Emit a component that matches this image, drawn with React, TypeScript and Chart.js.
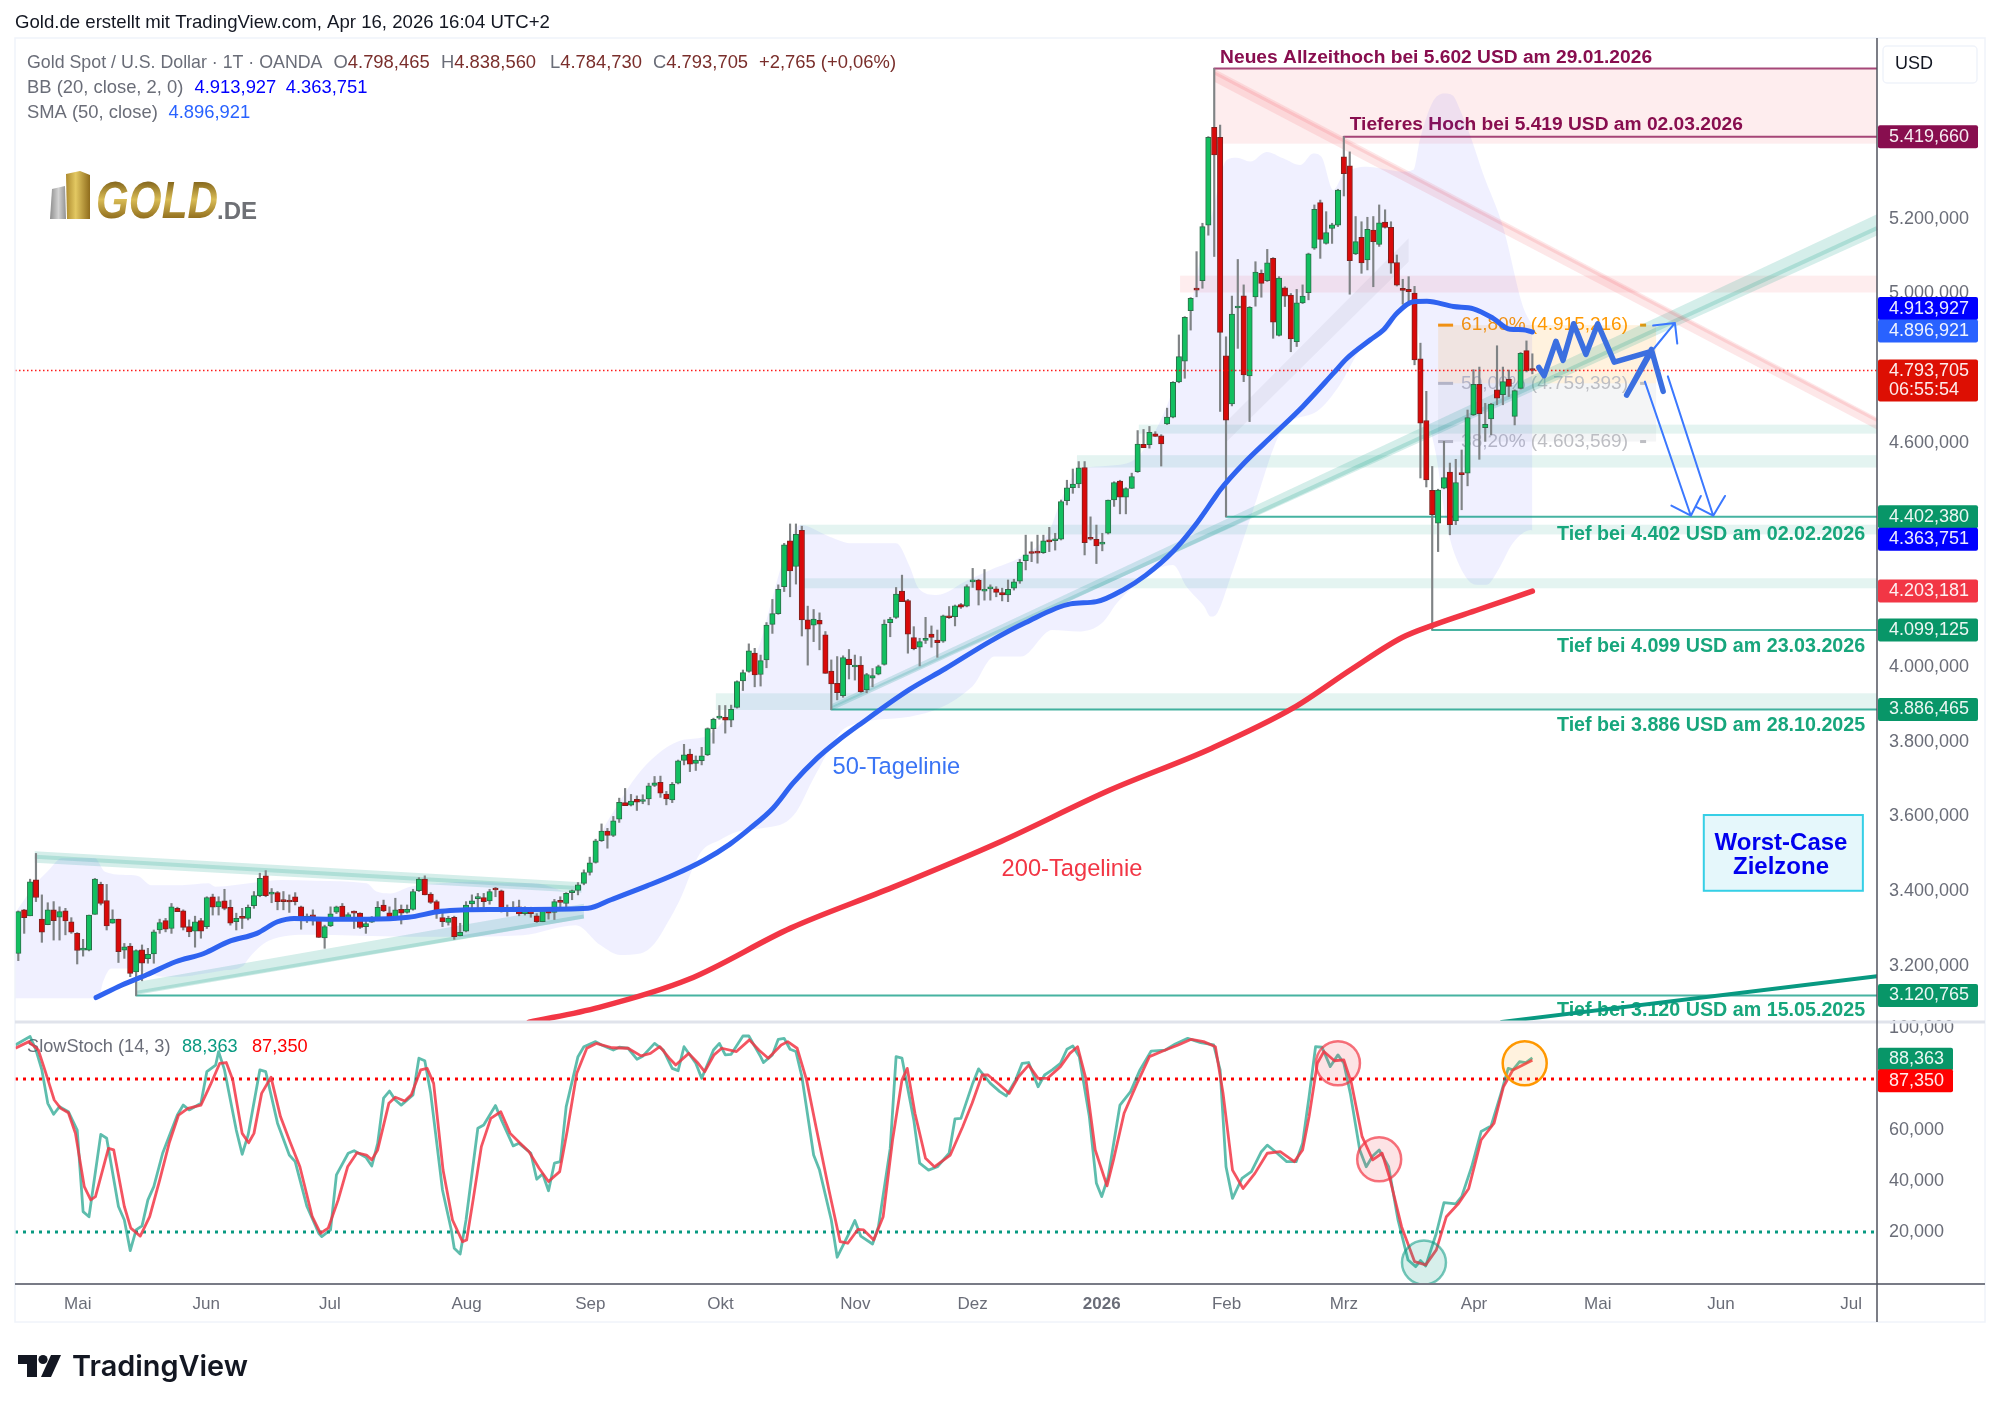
import { useEffect, useRef } from 'react';
import { Chart, registerables } from 'chart.js';

Chart.register(...registerables);

const FONT = '"Liberation Sans", Arial, sans-serif';

// daily candles, bar 0 = mid April 2025, last bar = Apr 16 2026
const opens = [
  3233,3350,3334,3430,3325,3310,3350,3330,3347,3318,
  3287,3242,3242,3338,3418,3375,3314,3325,3242,3253,
  3184,3243,3219,3232,3296,3321,3300,3354,3347,3305,
  3293,3321,3305,3385,3358,3374,3357,3318,3329,3327,
  3361,3388,3441,3392,3396,3374,3373,3385,3358,3326,
  3335,3325,3275,3307,3344,3360,3326,3344,3341,3305,
  3317,3329,3363,3342,3328,3351,3343,3351,3401,3432,
  3392,3372,3329,3316,3330,3281,3293,3366,3380,3383,
  3374,3405,3401,3349,3352,3358,3340,3342,3334,3318,
  3351,3343,3372,3367,3396,3402,3421,3450,3477,3535,
  3561,3549,3593,3637,3630,3646,3640,3647,3683,3691,
  3660,3644,3689,3750,3767,3742,3749,3765,3835,3863,
  3865,3858,3892,3963,3988,4037,3980,4019,4114,4143,
  4215,4338,4269,4366,4126,4112,4125,4086,3989,3956,
  3923,4021,4000,4005,3939,3970,3981,4007,4119,4133,
  4203,4178,4079,4053,4071,4088,4072,4069,4135,4135,
  4167,4163,4228,4233,4203,4209,4209,4199,4193,4211,
  4230,4285,4309,4309,4306,4340,4338,4342,4445,4480,
  4490,4534,4344,4342,4329,4358,4447,4498,4455,4478,
  4523,4596,4595,4624,4619,4651,4669,4763,4819,4954,
  5014,5034,5183,5445,5418,4833,4704,4961,4994,4779,
  4991,5054,5034,5094,4888,5015,4996,4871,4975,5002,
  5121,5243,5134,5174,5183,5366,5342,5106,5150,5090,
  5170,5131,5191,5177,5083,5014,5011,5001,4825,4660,
  4473,4385,4479,4522,4391,4518,4519,4675,4757,4641,
  4664,4742,4729,4770,4671,4746,4847,4798.465,
];
const highs = [
  3347,3351,3432,3501,3390,3369,3372,3358,3354,3329,
  3289,3271,3336,3434,3424,3418,3350,3325,3260,3260,
  3243,3256,3247,3296,3325,3327,3367,3357,3350,3323,
  3333,3327,3385,3392,3385,3405,3376,3341,3354,3363,
  3399,3448,3455,3407,3399,3399,3390,3396,3360,3339,
  3350,3327,3309,3358,3360,3367,3342,3347,3342,3323,
  3332,3372,3376,3358,3381,3363,3363,3405,3436,3441,
  3396,3376,3350,3333,3333,3314,3372,3390,3394,3394,
  3405,3410,3403,3363,3372,3376,3358,3357,3340,3351,
  3354,3378,3385,3396,3403,3423,3457,3491,3539,3580,
  3568,3600,3649,3675,3659,3655,3658,3689,3707,3708,
  3667,3691,3751,3793,3780,3762,3785,3837,3863,3897,
  3897,3898,3963,3992,4062,4050,4032,4119,4181,4220,
  4331,4383,4383,4377,4163,4154,4145,4095,4019,4028,
  4030,4047,4032,4028,3983,3996,4005,4126,4133,4213,
  4246,4181,4108,4077,4133,4110,4099,4139,4162,4166,
  4170,4220,4264,4235,4261,4220,4215,4211,4233,4235,
  4288,4353,4335,4353,4353,4374,4358,4447,4500,4530,
  4550,4550,4402,4380,4358,4447,4496,4500,4480,4519,
  4633,4636,4644,4630,4622,4693,4764,4889,4938,4989,
  5112,5188,5420,5602,5451,4884,4993,5091,5023,4965,
  5085,5063,5118,5096,5045,5018,5000,5011,5023,5108,
  5237,5250,5219,5188,5279,5419.66,5379,5206,5192,5204,
  5206,5237,5224,5192,5103,5038,5045,5019,4867,4738,
  4537,4476,4604,4546,4556,4581,4688,4796,4803,4706,
  4706,4860,4803,4795,4742,4842,4873,4838.56,
];
const lows = [
  3214,3287,3334,3372,3263,3310,3269,3269,3283,3287,
  3205,3226,3240,3338,3363,3296,3314,3209,3220,3171,
  3120.765,3160,3207,3207,3287,3291,3287,3345,3296,3278,
  3250,3274,3300,3336,3336,3350,3309,3296,3300,3323,
  3354,3385,3385,3369,3350,3350,3343,3363,3298,3316,
  3309,3276,3247,3305,3340,3327,3323,3300,3300,3287,
  3316,3327,3345,3327,3323,3312,3341,3349,3399,3390,
  3367,3327,3305,3309,3271,3280,3291,3350,3354,3357,
  3365,3385,3344,3333,3345,3334,3336,3330,3316,3318,
  3325,3324,3354,3356,3377,3390,3417,3443,3475,3533,
  3515,3546,3584,3629,3628,3616,3634,3631,3680,3651,
  3631,3637,3687,3738,3720,3723,3738,3763,3796,3860,
  3823,3840,3890,3937,3986,3947,3949,3998,4090,4141,
  4202,4188,4222,4083,4005,4068,4046,3983,3886.465,3912,
  3919,3968,3965,3932,3931,3947,3979,4005,4081,4130,
  4175,4037,4046,4003,4063,4053,4026,4066,4130,4110,
  4157,4161,4213,4166,4179,4179,4188,4177,4175,4206,
  4224,4260,4282,4278,4304,4309,4313,4340,4434,4465,
  4480,4300,4340,4277,4311,4356,4430,4410,4410,4478,
  4521,4587,4586,4617,4538,4649,4667,4761,4773,4902,
  4991,5014,5156,5099,4684,4402.38,4699,4853,4764,4657,
  4966,4990,5032,4880,4886,4965,4844,4858,4973,4983,
  5118,5094,5132,5134,5179,5261,4998,5104,5054,5063,
  5018,5126,5175,5054,5020,4971,4974,4809,4506,4482,
  4099.125,4309,4477,4354,4381,4421,4485,4673,4556,4604,
  4622,4702,4702,4724,4648,4744,4790,4784.73,
];
const closes = [
  3345,3329,3425,3383,3290,3350,3321,3345,3320,3290,
  3241,3244,3336,3432,3367,3307,3325,3238,3251,3180,
  3241,3207,3231,3291,3316,3298,3358,3345,3303,3291,
  3318,3293,3383,3357,3372,3354,3314,3327,3327,3357,
  3388,3434,3388,3394,3372,3372,3371,3372,3325,3333,
  3331,3276,3305,3339,3358,3330,3337,3341,3303,3313,
  3325,3357,3347,3327,3350,3341,3351,3399,3432,3390,
  3370,3339,3318,3327,3278,3290,3363,3374,3383,3372,
  3399,3403,3345,3351,3355,3339,3342,3340,3318,3350,
  3341,3372,3370,3394,3400,3417,3450,3476,3535,3561,
  3549,3588,3638,3629,3641,3638,3642,3682,3690,3662,
  3647,3686,3749,3765,3740,3751,3762,3835,3860,3866,
  3858,3887,3961,3985,4043,3979,4017,4112,4143,4208,
  4327,4257,4355,4126,4101,4128,4115,3983,3955,3931,
  4025,4006,4003,3934,3980,3977,4001,4115,4128,4195,
  4175,4088,4049,4068,4077,4079,4065,4137,4132,4164,
  4160,4215,4233,4206,4206,4212,4200,4193,4208,4228,
  4280,4300,4304,4305,4338,4335,4341,4443,4480,4490,
  4533,4333,4342,4324,4333,4447,4494,4455,4478,4510,
  4597,4587,4628,4617,4597,4669,4762,4831,4936,4987,
  5009,5179,5418,5371,4896,4661,4945,4965,4782,4963,
  5057,5027,5082,4923,5041,4993,4878,4975,4993,5106,
  5225,5145,5163,5184,5277,5321,5088,5139,5082,5172,
  5139,5189,5177,5081,5022,5008,5005,4822,4653,4501,
  4408,4474,4507,4381,4494,4515,4668,4757,4678,4650,
  4704,4720,4764,4751,4740,4840,4793,4793.705,
];

const sma50Bars = [13.2,17.6,21.8,26.7,31.5,35.7,40.5,44,46.8,52.3,59.2,66.2,71.7,80,87,96.7,100.6,106.7,111.2,116.3,120.8,124.2,128.1,131.5,135.6,138.9,142.9,151.3,157.4,164.9,171,178.6,183,187.7,191.4,196,199.8,202.8,204,208,213,218,223.2,225.5,229.5,231.7,234,236.8,239.1,243.6,247,250.3,253.2,255.4,257];
const sma50Values = [3115,3149,3176,3211,3233,3265,3287,3318,3327,3325,3325,3330,3346,3351,3351,3354,3377,3414,3443,3482,3526,3568,3622,3689,3756,3800,3847,3940,3996,4068,4119,4169,4175,4208,4246,4309,4380,4447,4474,4545,4621,4697,4786,4826,4876,4902,4947,4978,4979,4965,4959,4934,4904,4903,4896.921];

const sma200Bars = [86.7,98.6,113.8,131.1,148.4,166.8,185.2,202.5,216.5,226.3,234.9,240.3,247.9,257];
const sma200Values = [3049,3089,3164,3301,3410,3533,3670,3782,3891,3994,4079,4113,4154,4203.181];

const bbUpperBars = [-0.6,2.8,5.1,7.4,13,14.7,18.7,20.4,22.6,27.7,32.3,33.4,40.2,44.7,50.4,59.1,60.8,63.1,66.5,71.6,78.4,82.9,87.4,94.8,96,98.7,102.1,104.9,108.4,112.9,116.3,120.2,122.5,125.9,128.2,130.4,132.7,137.7,141.5,149,151.3,152.8,155.9,161.2,165,170.2,174.8,177,178,180,188.1,194.9,197.7,200.6,202.8,205.1,206.8,209.1,211.9,214.7,217.6,219.8,221.2,223.2,224.9,228.9,231.1,235,236.8,237.9,240,242,243.5,244.5,246.4,248.6,252,255.4,257];
const bbUpperValues = [3340,3416,3455,3488,3488,3452,3443,3440,3416,3416,3421,3412,3423,3430,3428,3421,3399,3394,3412,3421,3425,3421,3421,3394,3430,3546,3640,3707,3765,3805,3812,3867,3934,4063,4197,4313,4380,4349,4331,4331,4269,4211,4193,4233,4260,4295,4358,4447,4480,4530,4545,4697,4849,5090,5223,5357,5363,5353,5379,5362,5344,5375,5366,5277,5317,5339,5335,5326,5331,5411,5510,5535,5530,5500,5425,5322,5179,4965,4913.927];
const bbLowerBars = [-0.6,13.6,14.4,15.8,18.7,22.1,24.3,27.7,31.1,34.5,38,39.3,42.5,49.6,66.2,74.5,85.6,94.6,98.8,102.2,105.6,108,110,112.3,115.7,119.1,122,125.9,130.4,132.1,135,140.7,151.3,161.9,165.7,170.2,175.5,180,183.9,186.9,196,198.3,201.3,202.4,203.5,205.8,209.6,214.7,220.4,224.3,227.5,229.4,232.8,235,236.8,237.9,239,240.7,242.4,244.7,247.5,249.2,251.2,253.7,256.8,257];
const bbLowerValues = [3113,3113,3158,3193,3193,3180,3171,3171,3178,3187,3198,3224,3267,3283,3278,3278,3282,3309,3256,3229,3233,3260,3310,3377,3501,3537,3559,3568,3586,3613,3702,3840,3867,3947,4028,4028,4099,4095,4117,4179,4273,4215,4162,4135,4144,4242,4420,4639,4684,4755,4844,4876,4907,4974,4978,4867,4697,4564,4385,4269,4220,4220,4260,4332,4367,4363.751];

const stochKBars = [-0.5,2,3,4,5,6,7,8.5,10,11,12,14,15,17,18,19,20,21,22,23,24.5,27,28,29,31,32,33.5,34,35,37,38,39,41,42,44,46,47,49,51,51.5,53,54,56,57,59,60,61,62,63,64,65,67,68,69,70,72,73.5,74,75,76,78,79,81,82,84,85,87,88,89,90,91,92,93,95,96,98,99,101,102,103.5,105,106,108,109.5,111,112,113,115,116,118,119,120,121,123,124,126,126.5,128,129,130,131,132,133,135,136,138,139,141,142,143,145,146,148,149,150,152,153,154.5,156,158,159,160,162,163,165,166.6,167.7,169.3,170.4,171.5,173.1,174.2,175.5,176.9,178,179,180.1,181.8,183,183.9,185,187,188.8,190.4,192.3,194.7,196.4,198.5,200.7,202.9,204,205,206.1,207.7,209.3,211,212,213.4,215.3,216.9,218,219.1,220.2,221.3,222.7,224,225,226.1,227.7,228.8,229.9,231,232.6,234.2,235.9,237.2,238,238.9,240.7,242,244,245,246.7,248.3,250,251.6,252.9,253.7,254.8,255.9,257];
const stochKValues = [93.4,96.7,91.4,83.6,70.5,66.2,69.2,67.2,60,28,26,58.3,56.8,30,24.7,12.7,20.8,22.4,32.6,37.8,50.9,65.9,69.8,67.9,70.5,82.9,85.5,90.8,83.6,60,50.5,58,83.6,82.9,62.7,50.2,47.6,30,19.5,18.2,20.8,42.4,50.9,51.9,49.3,45.9,54.8,72.5,75.3,71.8,69.8,73.8,88.2,87.2,74.4,36.5,20.8,13.6,11.4,24.7,60.7,62,69.6,64,53.8,54.8,50.9,40.7,42.8,36.2,47,47.6,69.2,88.8,92.7,94.7,93.4,91.4,92.5,92.1,87.8,89,94,91.4,84.2,83.3,92.7,86.2,80.3,91.4,94,89.5,89.7,96.9,96.9,88.8,86.5,89.5,95.6,96,91.7,90.8,81,50.2,44.3,24.7,10.1,19.5,24.5,18.4,15.3,22.1,52.8,88.8,88.2,64,47,44.3,45.6,50.9,64.4,64.6,78.3,84,78.3,75.1,73.4,79.7,86.2,86.5,77,81.6,83.6,86.2,91.7,93,88.8,65.3,39.1,33.9,41.7,69.8,75.1,83.6,91,91.4,93.8,96,94.3,93.4,83.6,45.6,33.2,41,43.7,51.5,54.1,51.5,47.6,47.6,54.8,73.1,92.7,92.5,84.9,89.5,86.2,74.4,52.2,45.6,49.8,52.2,45.6,24.7,9,6.4,8.8,6.7,19.5,31.5,31,33.9,45.6,59.4,61.6,73.8,84.2,83.6,86.8,86.5,88.363];
const stochDBars = [-0.5,1.8,3.4,4.5,6.1,7.2,8.5,9.7,11.2,12.3,13.1,15.3,16.2,18,19.1,20.7,22.3,24,25.6,27.2,28.8,31,32.6,34.2,35.3,36.4,38,39.1,40,41.3,42.9,44.5,46.1,47.8,49.9,51.3,52.6,54.3,55.9,57.5,59.1,60,61,62.9,64,65.6,66.7,68.3,69.4,70.5,72.1,73.7,75.4,76.1,77.2,78.6,80.2,81.9,83.5,85.1,86.7,88.4,90,91.9,93.2,94.8,96.5,98.1,100.8,103.5,105.7,107.3,108.9,110.5,111.6,113.8,115.4,116.5,118.1,119.4,121.9,124.1,125.7,127.3,129.5,130.6,132.2,133.8,135.4,137.6,139.5,140.8,142.5,143.5,145.2,146.8,148.4,150,150.9,152.2,154,155.5,158.2,160.3,161.9,163.6,164.6,166.6,168.2,169.8,171.5,173.1,174.7,176.9,178.5,179.8,181.2,182.8,184.8,185.9,187.7,189.9,192,194.7,196.9,199.1,201.2,203.2,204.5,206.1,207.9,209.9,212,214.2,216.6,218,219.1,220.5,221.6,223.4,225,226.3,228.1,229.9,231.5,232.8,234.8,237,238.9,240.7,242.4,244.5,246.2,248.3,250.5,252.1,253.7,255.4,257];
const stochDValues = [92.1,94.7,91.4,83.6,71.8,68.5,66.8,58.7,37.8,32.6,33.9,52.8,52.2,30,21.5,18.4,26,40.4,54.8,65.9,68.5,69.8,77.7,86.2,86.5,79.7,58.7,55,58.7,74.4,80.7,65.3,55.5,45.6,26,19.5,21.5,32.6,45.6,51.1,50.2,48.3,52.2,70.5,72.9,71.4,73.8,83.6,84.2,78.3,44.3,24.7,16.2,16.9,32.6,53.5,64.6,67.2,58.7,55,51.5,45,39.8,43.7,60,82.3,92.1,94,92.3,92.1,89.1,90.1,92.7,88.2,85.5,90.1,86.2,82.9,89.5,92.1,90.8,95.4,91.4,88.2,93.4,94.7,92.1,79.7,61.3,36.5,16.2,15.6,21,20.8,16.9,26,56.1,79.7,84.2,66.6,48.9,45.6,50.2,61.3,70.5,81.6,81.6,77.7,74.4,81,85.5,80.3,80.3,84.9,90.1,92.7,80.3,52.2,38.1,48.3,66.6,78.3,88.8,91.4,93.4,95.6,94.7,92.7,74.4,44.3,37.1,43,50.9,51.5,47.6,52.2,65.3,86.2,90.8,87.2,87.5,78.3,57.4,48.3,50.9,41.1,22.1,8.4,7.1,13,26,31.3,37.1,56.1,62.7,77,83.6,85.5,87.35];
const stochBandLevels = [80, 20];
const circleBars = [224, 231, 238.6, 255.7];
const circleValues = [86.2, 48.5, 8, 86.2];

const monthTickBars = [10.1,31.9,52.9,76.1,97.1,119.2,142.1,162,183.9,205.1,225,247.1,268.1,289,311.1];
const monthLabels = ['Mai','Jun','Jul','Aug','Sep','Okt','Nov','Dez','2026','Feb','Mrz','Apr','Mai','Jun','Jul'];
const priceTicks = [5200,5000,4600,4000,3800,3600,3400,3200];
const stochTicks = [100,60,40,20];

const lastPrice = 4793.705;
const athLevel = 5602;
const lowerHighLevel = 5419.66;
const maroonStartBars = [203, 225];
const maroonLevels = [athLevel, lowerHighLevel];
const lowStartBars = [205, 240, 138, 20];
const lowLevels = [4402.38, 4099.125, 3886.465, 3120.765];

// horizontal zones, from a start bar to the price axis
const zoneStartBars = [203.1, 197.2, 190.2, 179.7, 132.7, 133.2, 118.4];
const zoneTops = [5602, 5047.6, 4648.9, 4567, 4381, 4237.6, 3929.6];
const zoneBottoms = [5401, 5002.6, 4624.8, 4534, 4355, 4210.7, 3885];

// trend channels as four corners (bar, price)
const upperWedgeBars = [2.8, 95.6, 95.6, 2.8];
const upperWedgeValues = [3507, 3424, 3396, 3476];
const upperWedgeCore = [3492, 3408];
const lowerWedgeBars = [20.1, 96, 96, 20.1];
const lowerWedgeValues = [3157, 3366, 3327, 3125];
const lowerWedgeCore = [3128, 3332];
const riseBars = [138, 315.5, 315.5, 138];
const riseValues = [3900, 5212, 5155, 3889];
const riseCore = [3889, 5175];
const fallBars = [203.1, 315.5, 315.5, 203.1];
const fallValues = [5600, 4668, 4636, 5566];
const fallCore = [5590, 4660];
const greyBars = [205.1, 236, 236, 205.1];
const greyValues = [4657, 5148, 5085, 4603];

const longTrendBars = [251.8, 315.5];
const longTrendValues = [3050, 3172];

const fibBars = [241, 278];
const fibLevels = [4915.216, 4759.393, 4603.569];
const fibLabels = ['61,80% (4.915,216)', '50,00% (4.759,393)', '38,20% (4.603,569)'];

// hand drawn scenario
const zigzagBars = [258.1,259,261,262.2,264,266.1,268.1,270.9,277.2,273,277.2,279.2];
const zigzagValues = [4802,4780,4872,4821,4919,4837,4919,4816,4845,4728,4850,4738];
const arrowUpBars = [277.5,281.2,277.5,281.2,281.6];
const arrowUpValues = [4850,4921,4914,4921,4866];
const arrowDownABars = [276.1,283.9,280.6,283.9,285.6];
const arrowDownAValues = [4764,4405,4432,4405,4458];
const arrowDownBBars = [280,287.7,284.8,287.7,289.7];
const arrowDownBValues = [4778,4405,4429,4405,4458];

const priceMin = 3049.7;
const priceMax = 5683.9;

const deNum = (v: number) =>
  v.toLocaleString('de-DE', { minimumFractionDigits: 3, maximumFractionDigits: 3 });

const path = (xs: number[], ys: number[], color: string, width: number, order: number, extra: any = {}) => ({
  type: 'line',
  data: xs.map((x, k) => ({ x, y: ys[k] })),
  yAxisID: 'price',
  borderColor: color,
  borderWidth: width,
  pointRadius: 0,
  tension: 0,
  fill: false,
  order,
  borderCapStyle: 'round',
  borderJoinStyle: 'round',
  ...extra,
});

function label(ctx: CanvasRenderingContext2D, text: string, x: number, y: number, color: string, font: string, align: CanvasTextAlign = 'left') {
  ctx.fillStyle = color;
  ctx.font = font;
  ctx.textAlign = align;
  ctx.textBaseline = 'middle';
  ctx.fillText(text, x, y);
}

function polygon(ctx: CanvasRenderingContext2D, chart: any, bars: number[], values: number[], color: string) {
  const { x, price } = chart.scales;
  ctx.fillStyle = color;
  ctx.beginPath();
  bars.forEach((b, k) => {
    const px = x.getPixelForValue(b);
    const py = price.getPixelForValue(values[k]);
    if (k === 0) ctx.moveTo(px, py);
    else ctx.lineTo(px, py);
  });
  ctx.closePath();
  ctx.fill();
}

function coreLine(ctx: CanvasRenderingContext2D, chart: any, bars: number[], values: number[], color: string, width: number) {
  const { x, price } = chart.scales;
  ctx.strokeStyle = color;
  ctx.lineWidth = width;
  ctx.beginPath();
  ctx.moveTo(x.getPixelForValue(bars[0]), price.getPixelForValue(values[0]));
  ctx.lineTo(x.getPixelForValue(bars[1]), price.getPixelForValue(values[1]));
  ctx.stroke();
}

function priceTag(ctx: CanvasRenderingContext2D, y: number, width: number, bg: string, lines: string[]) {
  const h = lines.length > 1 ? 42 : 23;
  const top = lines.length > 1 ? y - 11 : y - h / 2;
  ctx.fillStyle = bg;
  ctx.beginPath();
  ctx.roundRect(1878, top, width, h, 2);
  ctx.fill();
  lines.forEach((t, k) => label(ctx, t, 1889, top + 11.5 + k * 19, 'rgba(255,255,255,0.92)', `18px ${FONT}`));
}

function goldLogo(ctx: CanvasRenderingContext2D) {
  const grey = ctx.createLinearGradient(50, 0, 67, 0);
  grey.addColorStop(0, '#8e8e8e');
  grey.addColorStop(0.5, '#d2d2d2');
  grey.addColorStop(1, '#8a8a8a');
  ctx.fillStyle = grey;
  ctx.beginPath();
  ctx.moveTo(52, 189); ctx.lineTo(65, 186); ctx.lineTo(66, 219); ctx.lineTo(50, 219);
  ctx.closePath(); ctx.fill();
  const gold = ctx.createLinearGradient(64, 0, 90, 0);
  gold.addColorStop(0, '#a37f25');
  gold.addColorStop(0.45, '#e3c862');
  gold.addColorStop(1, '#8f6c1c');
  ctx.fillStyle = gold;
  ctx.beginPath();
  ctx.moveTo(66, 174); ctx.lineTo(80, 171); ctx.lineTo(90, 175); ctx.lineTo(90, 219); ctx.lineTo(67, 219);
  ctx.closePath(); ctx.fill();
  const text = ctx.createLinearGradient(0, 180, 0, 219);
  text.addColorStop(0, '#7d5f18');
  text.addColorStop(0.5, '#d9bc55');
  text.addColorStop(1, '#8f6c1c');
  ctx.fillStyle = text;
  ctx.font = `italic bold 52px ${FONT}`;
  ctx.textAlign = 'left';
  ctx.textBaseline = 'alphabetic';
  ctx.fillText('GOLD', 96, 218, 122);
  ctx.fillStyle = '#6e7075';
  ctx.font = `bold 24px ${FONT}`;
  ctx.fillText('.DE', 217, 219, 45);
}

function tradingViewLogo(ctx: CanvasRenderingContext2D) {
  ctx.fillStyle = '#131722';
  ctx.fillRect(18, 1355, 19, 9);
  ctx.fillRect(27, 1355, 10, 22);
  ctx.beginPath();
  ctx.arc(43, 1359.5, 4.6, 0, Math.PI * 2);
  ctx.fill();
  ctx.beginPath();
  ctx.moveTo(51, 1355); ctx.lineTo(61, 1355); ctx.lineTo(51, 1377); ctx.lineTo(41, 1377);
  ctx.closePath(); ctx.fill();
  ctx.font = `600 29px Inter, ${FONT}`;
  ctx.textAlign = 'left';
  ctx.textBaseline = 'middle';
  ctx.fillText('TradingView', 72, 1367, 176);
}

const overlay = {
  id: 'overlay',
  beforeDatasetsDraw(chart: any) {
    const ctx: CanvasRenderingContext2D = chart.ctx;
    const { x, price, stoch } = chart.scales;
    const right = chart.chartArea.right;
    const px = (b: number) => x.getPixelForValue(b);
    const py = (v: number) => price.getPixelForValue(v);
    ctx.save();

    // zones
    zoneStartBars.forEach((b, k) => {
      ctx.fillStyle = k < 2 ? 'rgba(242,54,69,0.09)' : 'rgba(8,153,129,0.11)';
      ctx.fillRect(px(b), py(zoneTops[k]), right - px(b), py(zoneBottoms[k]) - py(zoneTops[k]));
    });

    // fibonacci box
    const fibL = px(fibBars[0]);
    const fibR = px(fibBars[1]);
    ctx.fillStyle = 'rgba(255,152,0,0.13)';
    ctx.fillRect(fibL, py(fibLevels[0]), fibR - fibL, py(fibLevels[1]) - py(fibLevels[0]));
    ctx.fillStyle = 'rgba(120,123,134,0.08)';
    ctx.fillRect(fibL, py(fibLevels[1]), fibR - fibL, py(fibLevels[2]) - py(fibLevels[1]));
    const fibColors = ['#ff9800', '#bdbec3', '#bdbec3'];
    fibLevels.forEach((lvl, k) => {
      const y = py(lvl);
      ctx.fillStyle = fibColors[k];
      ctx.fillRect(fibL, y - 1.5, 15, 3);
      ctx.fillRect(fibL + 202, y - 1.5, 6, 3);
      label(ctx, fibLabels[k], fibL + 23, y, fibColors[k], `19px ${FONT}`);
    });

    // channels
    polygon(ctx, chart, upperWedgeBars, upperWedgeValues, 'rgba(8,153,129,0.17)');
    coreLine(ctx, chart, upperWedgeBars, upperWedgeCore, 'rgba(8,153,129,0.18)', 4);
    polygon(ctx, chart, lowerWedgeBars, lowerWedgeValues, 'rgba(8,153,129,0.17)');
    coreLine(ctx, chart, lowerWedgeBars, lowerWedgeCore, 'rgba(8,153,129,0.2)', 4);
    polygon(ctx, chart, riseBars, riseValues, 'rgba(8,153,129,0.17)');
    coreLine(ctx, chart, riseBars, riseCore, 'rgba(8,153,129,0.2)', 4);
    polygon(ctx, chart, fallBars, fallValues, 'rgba(242,54,69,0.12)');
    coreLine(ctx, chart, fallBars, fallCore, 'rgba(242,54,69,0.14)', 3);
    polygon(ctx, chart, greyBars, greyValues, 'rgba(120,123,134,0.09)');

    // worst case box
    const boxL = px(286.1);
    const boxR = px(313.1);
    const boxT = py(3603.8);
    const boxB = py(3401);
    ctx.fillStyle = '#e5f7fb';
    ctx.strokeStyle = '#35cfe6';
    ctx.lineWidth = 2;
    ctx.fillRect(boxL, boxT, boxR - boxL, boxB - boxT);
    ctx.strokeRect(boxL, boxT, boxR - boxL, boxB - boxT);
    label(ctx, 'Worst-Case', px(299.2), py(3532) + 2, '#0000ee', `bold 24px ${FONT}`, 'center');
    label(ctx, 'Zielzone', px(299.2), py(3470) + 2, '#0000ee', `bold 24px ${FONT}`, 'center');

    // notes
    const maroon = '#880e4f';
    const green = '#17a67c';
    const bold = `bold 19.2px ${FONT}`;
    const lowFont = `bold 19.7px ${FONT}`;
    const drop = 2.5;
    label(ctx, 'Neues Allzeithoch bei 5.602 USD am 29.01.2026', px(204), py(5638) + drop, maroon, bold);
    label(ctx, 'Tieferes Hoch bei 5.419 USD am 02.03.2026', px(226), py(5458) + drop, maroon, bold);
    label(ctx, 'Tief bei 4.402 USD am 02.02.2026', px(313.5), py(4362.5) + drop, green, lowFont, 'right');
    label(ctx, 'Tief bei 4.099 USD am 23.03.2026', px(313.5), py(4061.6) + drop, green, lowFont, 'right');
    label(ctx, 'Tief bei 3.886 USD am 28.10.2025', px(313.5), py(3850) + drop, green, lowFont, 'right');
    label(ctx, 'Tief bei 3.120 USD am 15.05.2025', px(313.5), py(3086) + drop, green, lowFont, 'right');
    label(ctx, '50-Tagelinie', px(138.2), py(3737.7) + drop, '#3a74f5', `23.7px ${FONT}`);
    label(ctx, '200-Tagelinie', px(166.9), py(3464.6) + drop, '#f23645', `23.7px ${FONT}`);

    // stochastic legend
    const stochY = stoch.top + 25;
    label(ctx, 'SlowStoch (14, 3)', 27, stochY, '#6a6d78', `18.2px ${FONT}`);
    label(ctx, '88,363', 182, stochY, '#089981', `18.2px ${FONT}`);
    label(ctx, '87,350', 252, stochY, '#ff0000', `18.2px ${FONT}`);
    ctx.restore();
  },
  afterDatasetsDraw(chart: any) {
    const ctx: CanvasRenderingContext2D = chart.ctx;
    const { x, price, stoch } = chart.scales;
    const { left, right, top, bottom } = chart.chartArea;
    const frameR = chart.width - 14;
    ctx.save();

    // frame and separators
    ctx.strokeStyle = '#f0f3fa';
    ctx.lineWidth = 1.5;
    ctx.strokeRect(left, top, frameR - left, x.bottom - top);
    ctx.strokeStyle = '#e0e3eb';
    ctx.lineWidth = 3;
    ctx.beginPath();
    ctx.moveTo(left, price.bottom);
    ctx.lineTo(frameR, price.bottom);
    ctx.stroke();
    ctx.strokeStyle = '#787b86';
    ctx.lineWidth = 2;
    ctx.beginPath();
    ctx.moveTo(left, bottom);
    ctx.lineTo(frameR, bottom);
    ctx.stroke();
    ctx.strokeStyle = '#50535e';
    ctx.lineWidth = 1.5;
    ctx.beginPath();
    ctx.moveTo(right, top);
    ctx.lineTo(right, x.bottom);
    ctx.stroke();

    // currency box
    ctx.strokeStyle = '#f0f3fa';
    ctx.lineWidth = 1.5;
    ctx.beginPath();
    ctx.roundRect(1883, 46, 94, 37, 4);
    ctx.stroke();
    label(ctx, 'USD', 1895, 64, '#131722', `18px ${FONT}`);

    // price tags
    const py = (v: number) => price.getPixelForValue(v);
    const sy = (v: number) => stoch.getPixelForValue(v);
    priceTag(ctx, py(5419.66), 100, '#880e4f', ['5.419,660']);
    priceTag(ctx, py(4913.927) - 17, 100, '#0000ff', ['4.913,927']);
    priceTag(ctx, py(4896.921) - 1, 100, '#2962ff', ['4.896,921']);
    priceTag(ctx, py(lastPrice), 100, '#dd0f03', ['4.793,705', '06:55:54']);
    priceTag(ctx, py(4402.38), 100, '#089668', ['4.402,380']);
    priceTag(ctx, py(4363.751) + 8, 100, '#0000ff', ['4.363,751']);
    priceTag(ctx, py(4203.181), 100, '#f23645', ['4.203,181']);
    priceTag(ctx, py(4099.125), 100, '#089668', ['4.099,125']);
    priceTag(ctx, py(3886.465), 100, '#089668', ['3.886,465']);
    priceTag(ctx, py(3120.765), 100, '#089668', ['3.120,765']);
    priceTag(ctx, sy(88.363) + 1.5, 75, '#089668', ['88,363']);
    priceTag(ctx, sy(87.35) + 20.5, 75, '#ff0000', ['87,350']);

    // header and legends
    label(ctx, 'Gold.de erstellt mit TradingView.com, Apr 16, 2026 16:04 UTC+2', 15, 23, '#131722', `18.6px ${FONT}`);
    const grey = '#6a6d78';
    const wine = '#7a2e2b';
    const f = `18.4px ${FONT}`;
    label(ctx, 'Gold Spot / U.S. Dollar · 1T · OANDA', 27, 63, grey, `17.8px ${FONT}`);
    [['O', '4.798,465', 333.5], ['H', '4.838,560', 441], ['L', '4.784,730', 550], ['C', '4.793,705', 653]].forEach(([a, b, at]: any) => {
      label(ctx, a, at, 63, grey, f);
      label(ctx, b, at + ctx.measureText(a).width, 63, wine, f);
    });
    label(ctx, '+2,765 (+0,06%)', 759, 63, wine, f);
    label(ctx, 'BB (20, close, 2, 0)', 27, 88, grey, f);
    label(ctx, '4.913,927', 194.5, 88, '#0000ff', f);
    label(ctx, '4.363,751', 285.7, 88, '#0000ff', f);
    label(ctx, 'SMA (50, close)', 27, 113, grey, f);
    label(ctx, '4.896,921', 168.4, 113, '#2962ff', f);

    goldLogo(ctx);
    tradingViewLogo(ctx);
    ctx.restore();
  },
};

const smooth = { cubicInterpolationMode: 'monotone' };

export default function App() {
  const canvasRef = useRef<HTMLCanvasElement | null>(null);

  useEffect(() => {
    const canvas = canvasRef.current;
    if (!canvas) return;

    const xEnd = 315.5;
    const xStart = -0.56;

    const datasets: any[] = [
      // Bollinger cloud
      path(bbUpperBars, bbUpperValues, 'transparent', 0, 20, { ...smooth, fill: '+1', backgroundColor: 'rgba(70,70,255,0.08)' }),
      path(bbLowerBars, bbLowerValues, 'transparent', 0, 21, smooth),
      // level lines
      ...maroonLevels.map((lvl, k) =>
        path([maroonStartBars[k], xEnd], [lvl, lvl], 'rgba(136,14,79,0.75)', 2, 7)),
      ...lowLevels.map((lvl, k) =>
        path([lowStartBars[k], xEnd], [lvl, lvl], 'rgba(8,153,129,0.75)', 2, 7)),
      // candles
      {
        type: 'bar',
        data: highs.map((h, i) => ({ x: i, y: [lows[i], h] })),
        yAxisID: 'price',
        backgroundColor: '#7f8385',
        barThickness: 1.5,
        grouped: false,
        order: 6,
      },
      {
        type: 'bar',
        data: opens.map((o, i) => ({ x: i, y: [o, closes[i]] })),
        yAxisID: 'price',
        backgroundColor: opens.map((o, i) => (closes[i] >= o ? '#12bf60' : '#d90a0a')),
        borderColor: opens.map((o, i) => (closes[i] >= o ? '#2b6f49' : '#7d2320')),
        borderWidth: 1,
        borderSkipped: false,
        barThickness: 5.4,
        minBarLength: 2,
        grouped: false,
        order: 5,
      },
      // moving averages and trend
      path(sma50Bars, sma50Values, '#2f63f0', 5, 2, smooth),
      path(sma200Bars, sma200Values, '#f23645', 5.5, 2, smooth),
      path(longTrendBars, longTrendValues, '#089981', 4, 2),
      path([xStart, xEnd], [lastPrice, lastPrice], 'rgba(255,0,0,0.9)', 1.5, 3, { borderDash: [1.5, 2.5], borderCapStyle: 'butt' }),
      // scenario drawing
      path(zigzagBars, zigzagValues, '#3b6fe0', 5.5, 0),
      path(arrowUpBars, arrowUpValues, '#3b78ff', 2, 0),
      path(arrowDownABars, arrowDownAValues, '#3b78ff', 2, 0),
      path(arrowDownBBars, arrowDownBValues, '#3b78ff', 2, 0),
      // stochastic
      ...stochBandLevels.map((lvl, k) =>
        path([xStart, xEnd], [lvl, lvl], k === 0 ? '#ff0000' : '#089981', 3, 3, {
          yAxisID: 'stoch',
          borderDash: [3, 5],
          borderCapStyle: 'butt',
        })),
      path(stochKBars, stochKValues, 'rgba(8,153,129,0.65)', 2.8, 2, { yAxisID: 'stoch', borderCapStyle: 'butt' }),
      path(stochDBars, stochDValues, 'rgba(242,54,69,0.85)', 2.8, 1, { yAxisID: 'stoch', borderCapStyle: 'butt' }),
      {
        type: 'line',
        data: circleBars.map((b, k) => ({ x: b, y: circleValues[k] })),
        yAxisID: 'stoch',
        showLine: false,
        pointRadius: 22,
        pointBorderWidth: 2.5,
        pointBackgroundColor: ['rgba(242,54,69,0.14)', 'rgba(242,54,69,0.14)', 'rgba(8,153,129,0.16)', 'rgba(255,152,0,0.13)'],
        pointBorderColor: ['rgba(242,54,69,0.7)', 'rgba(242,54,69,0.7)', 'rgba(8,153,129,0.55)', '#ff9800'],
        order: 0,
      },
    ];

    const noPad = (scale: any) => {
      scale.paddingLeft = 0;
      scale.paddingRight = 0;
      scale.paddingTop = 0;
      scale.paddingBottom = 0;
    };

    const chart = new Chart(canvas, {
      type: 'bar',
      data: { datasets },
      plugins: [overlay],
      options: {
        responsive: false,
        animation: false,
        devicePixelRatio: 1,
        events: [],
        layout: { autoPadding: false, padding: { left: 15, right: 14, top: 38, bottom: 89 } },
        plugins: { legend: { display: false }, tooltip: { enabled: false } },
        scales: {
          x: {
            type: 'linear',
            min: xStart,
            max: xEnd,
            offset: false,
            grid: { display: false, drawTicks: false },
            border: { display: false },
            afterBuildTicks: (scale: any) => {
              scale.ticks = monthTickBars.map(value => ({ value }));
            },
            afterFit: (scale: any) => {
              scale.height = 38;
              noPad(scale);
            },
            ticks: {
              autoSkip: false,
              maxRotation: 0,
              padding: 10,
              color: '#6a6d78',
              font: (c: any) => ({
                family: FONT,
                size: 17,
                weight: monthLabels[monthTickBars.indexOf(c.tick?.value)] === '2026' ? 'bold' : 'normal',
              }),
              callback: (v: any) => monthLabels[monthTickBars.indexOf(v)],
            },
          },
          price: {
            type: 'linear',
            position: 'right',
            stack: 'panes',
            stackWeight: 984,
            min: priceMin,
            max: priceMax,
            grid: { display: false, drawTicks: false },
            border: { display: false },
            afterBuildTicks: (scale: any) => {
              scale.ticks = priceTicks.map(value => ({ value }));
            },
            afterFit: (scale: any) => {
              scale.width = 108;
              noPad(scale);
            },
            ticks: {
              autoSkip: false,
              padding: 12,
              color: '#6a6d78',
              font: { family: FONT, size: 18 },
              callback: (v: any) => deNum(v),
            },
          },
          stoch: {
            type: 'linear',
            position: 'right',
            stack: 'panes',
            stackWeight: 262,
            min: -0.4,
            max: 102.4,
            grid: { display: false, drawTicks: false },
            border: { display: false },
            afterBuildTicks: (scale: any) => {
              scale.ticks = stochTicks.map(value => ({ value }));
            },
            afterFit: (scale: any) => {
              scale.width = 108;
              noPad(scale);
            },
            ticks: {
              autoSkip: false,
              padding: 12,
              color: '#6a6d78',
              font: { family: FONT, size: 18 },
              callback: (v: any) => deNum(v),
            },
          },
        },
      },
    } as any);

    return () => chart.destroy();
  }, []);

  return (
    <div style={{ position: 'absolute', left: 0, top: 0, width: 1999, height: 1411, background: '#fff' }}>
      <canvas ref={canvasRef} width={1999} height={1411} style={{ display: 'block' }} />
    </div>
  );
}
